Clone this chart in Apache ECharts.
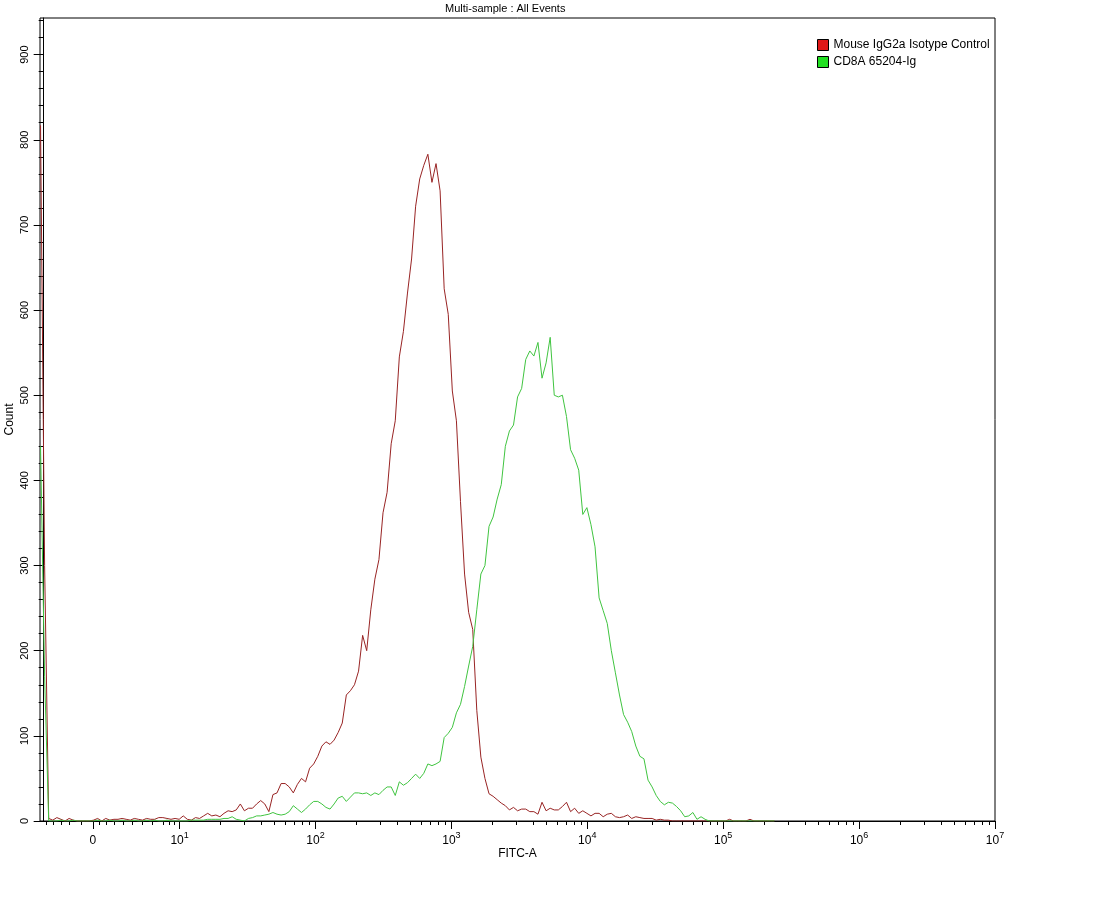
<!DOCTYPE html>
<html><head><meta charset="utf-8">
<script src="https://cdn.jsdelivr.net/npm/echarts@6/dist/echarts.min.js"></script>
<style>html,body{margin:0;padding:0;background:#fff}#c{width:1114px;height:910px}</style>
</head><body><div id="c"></div>
<script>
const chartTitle = 'Multi-sample : All Events';
const seriesNames = ['Mouse IgG2a Isotype Control', 'CD8A 65204-Ig'];
const xName = 'FITC-A';
const yName = 'Count';
// histogram bins on the biexponential display scale (units: decades)
const binStart = -0.023;
const binWidth = 0.03;
const redCounts = [817,300,3,1,4,2,0,3,1,0,0,0,0,1,3,0,3,1,2,2,3,2,1,3,2,1,3,2,2,4,
4,3,2,3,2,6,2,1,4,3,6,9,6,7,5,9,12,11,13,20,12,15,15,20,24,20,11,31,33,44,
44,40,33,43,50,46,62,67,76,88,93,90,95,104,115,148,153,160,176,218,200,248,284,307,362,386,443,470,545,575,
620,660,722,754,770,783,750,772,740,625,595,505,470,375,290,245,225,130,75,50,32,29,25,21,18,13,16,12,14,14,
11,11,8,22,12,15,13,13,17,22,11,15,9,12,9,6,9,9,5,8,9,5,4,5,7,3,5,4,3,3,
3,1,2,1,1,0,0,0,0,0,0,0,0,0,0,0,0,0,0,2,0,0,0,0,2,0,0,0,0,0,0];
const greenCounts = [440,170,0,0,0,1,0,0,1,0,0,0,0,0,1,0,0,1,0,0,1,0,0,1,0,0,1,0,1,0,
0,1,0,0,0,0,0,1,1,1,1,2,2,2,2,3,3,5,2,1,0,3,4,6,6,7,8,10,8,7,
8,11,18,14,10,14,19,23,23,20,16,14,20,27,29,23,28,33,33,32,33,30,33,31,36,40,40,30,46,42,
45,50,55,50,56,67,65,67,70,98,103,110,127,137,158,182,205,248,290,300,346,357,378,395,440,458,465,498,508,542,
552,546,562,520,538,568,500,498,500,475,436,426,412,360,368,348,322,262,247,232,200,174,148,125,116,105,88,76,73,48,
40,30,23,19,22,21,17,12,5,6,10,2,5,2,0,0,0,0,0,0,0,0,0,0,0,0,0,0,0,0,0];
// axis ticks (display decades)
const xMin = -0.027, xMax = 7;
const xMajorPos = [0.3616, 1, 2, 3, 4, 5, 6, 7];
const xMajorLabels = ['0', '1', '2', '3', '4', '5', '6', '7'];
const xMinorBiex = [0.021, 0.067, 0.129, 0.190, 0.276, 0.411, 0.460, 0.521, 0.582, 0.654, 0.728, 0.801, 0.877, 0.926, 0.963];
const yMin = 0, yMax = 943;
const yMajor = [0, 100, 200, 300, 400, 500, 600, 700, 800, 900];
const yMinor = [20,40,60,80,120,140,160,180,220,240,260,280,320,340,360,380,420,440,460,480,520,540,560,580,620,640,660,680,720,740,760,780,820,840,860,880,920,940];

const xMinor = xMinorBiex.slice();
for (let d = 1; d < 7; d++) for (let k = 2; k <= 9; k++) xMinor.push(d + Math.log10(k));

const FONT = '"Liberation Sans", Arial, sans-serif';
const toData = arr => arr.map((c, i) => [binStart + i * binWidth, c]);

const chart = echarts.init(document.getElementById('c'), null, {renderer: 'canvas'});
chart.setOption({
  animation: false,
  backgroundColor: '#fff',
  textStyle: {fontFamily: FONT},
  title: {text: chartTitle, left: 445, top: 3, padding: 0, textStyle: {fontSize: 11, fontWeight: 'normal', color: '#000', fontFamily: FONT}},
  legend: {
    orient: 'vertical', left: 817, top: 39, padding: 0, itemWidth: 11, itemHeight: 11, itemGap: 5, icon: 'rect',
    textStyle: {fontSize: 12, color: '#000', fontFamily: FONT},
    data: [
      {name: seriesNames[0], itemStyle: {color: '#e01818', borderColor: '#000', borderWidth: 1}},
      {name: seriesNames[1], itemStyle: {color: '#22e022', borderColor: '#000', borderWidth: 1}}
    ]
  },
  grid: {left: 40, right: 119, top: 18, bottom: 89, containLabel: false, outerBoundsMode: 'none',
    show: true, borderColor: '#000', borderWidth: 1, backgroundColor: 'transparent'},
  xAxis: [{
    type: 'value', min: xMin, max: xMax, position: 'bottom',
    axisLine: {show: true, lineStyle: {color: '#000', width: 1}},
    axisTick: {show: true, customValues: xMajorPos, length: 8, lineStyle: {color: '#000'}},
    axisLabel: {
      customValues: xMajorPos, margin: 10, color: '#000', fontSize: 12, fontFamily: FONT,
      formatter: v => {
        let idx = 0, best = 1e9;
        xMajorPos.forEach((p, i) => { if (Math.abs(p - v) < best) { best = Math.abs(p - v); idx = i; } });
        return idx === 0 ? '{b|' + xMajorLabels[0] + '}' : '{b|10}{e|' + xMajorLabels[idx] + '}';
      },
      rich: {
        b: {fontSize: 12, color: '#000', fontFamily: FONT, lineHeight: 16, verticalAlign: 'bottom'},
        e: {fontSize: 9, color: '#000', fontFamily: FONT, lineHeight: 16, verticalAlign: 'top'}
      }
    },
    splitLine: {show: false},
    name: xName, nameLocation: 'middle', nameGap: 27, nameMoveOverlap: false,
    nameTextStyle: {fontSize: 12, color: '#000', fontFamily: FONT}
  }, {
    type: 'value', min: xMin, max: xMax, position: 'bottom', gridIndex: 0,
    axisLine: {show: false},
    axisTick: {show: true, customValues: xMinor, length: 4, lineStyle: {color: '#000'}},
    axisLabel: {show: false}, splitLine: {show: false}
  }],
  yAxis: [{
    type: 'value', min: yMin, max: yMax, position: 'left',
    axisLine: {show: true, lineStyle: {color: '#000', width: 1}},
    axisTick: {show: true, customValues: yMajor, length: 10, lineStyle: {color: '#000'}},
    axisLabel: {customValues: yMajor, rotate: 90, margin: 10, color: '#000', fontSize: 11, fontFamily: FONT},
    splitLine: {show: false},
    name: yName, nameLocation: 'middle', nameGap: 24, nameRotate: 90, nameMoveOverlap: false,
    nameTextStyle: {fontSize: 12, color: '#000', fontFamily: FONT}
  }, {
    type: 'value', min: yMin, max: yMax, position: 'left', gridIndex: 0,
    axisLine: {show: false},
    axisTick: {show: true, customValues: yMinor, length: 5, lineStyle: {color: '#000'}},
    axisLabel: {show: false}, splitLine: {show: false}
  }],
  series: [{
    name: seriesNames[0], type: 'line', data: toData(redCounts), showSymbol: false, symbol: 'none',
    xAxisIndex: 0, yAxisIndex: 0, color: '#982424', lineStyle: {width: 1, color: '#982424'}
  }, {
    name: seriesNames[1], type: 'line', data: toData(greenCounts), showSymbol: false, symbol: 'none',
    xAxisIndex: 0, yAxisIndex: 0, color: '#40c440', lineStyle: {width: 1, color: '#40c440'}
  }]
});
</script></body></html>
